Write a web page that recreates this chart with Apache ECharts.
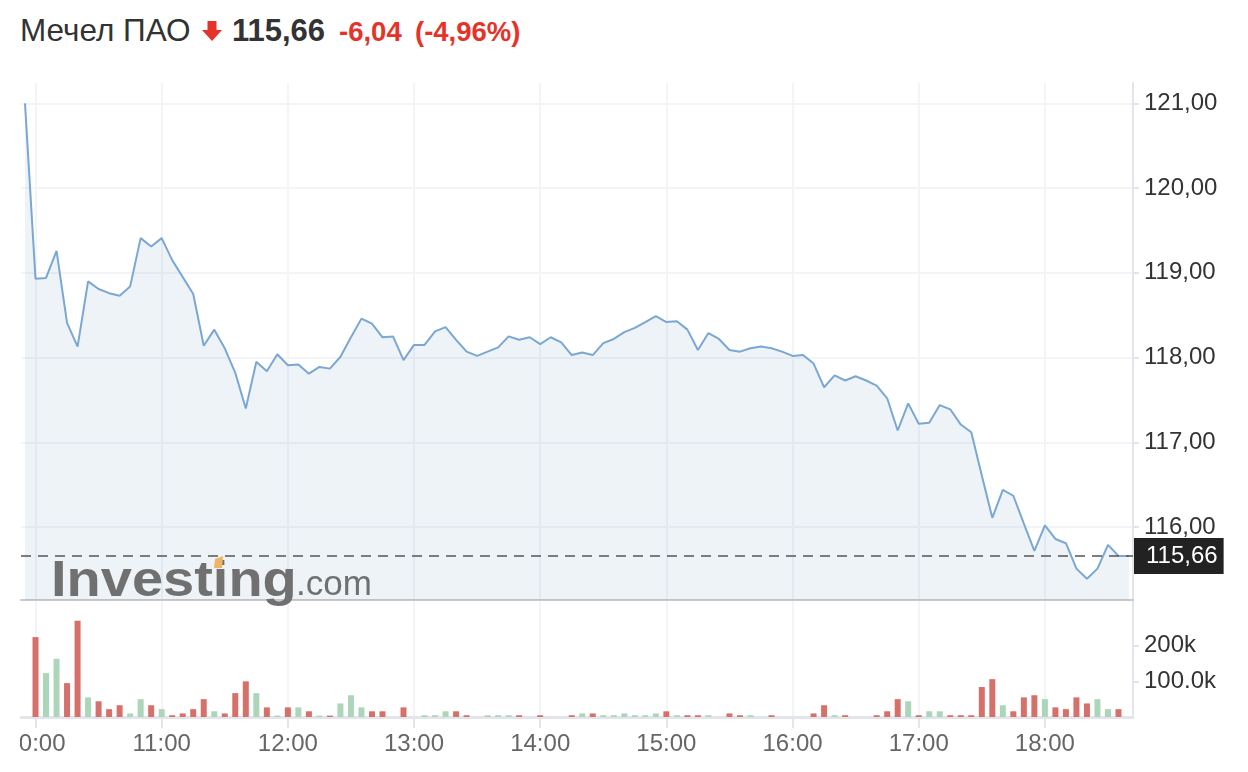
<!DOCTYPE html>
<html>
<head>
<meta charset="utf-8">
<title>Мечел ПАО</title>
<script src="https://cdn.jsdelivr.net/npm/echarts@6/dist/echarts.min.js"></script>
<style>
  html, body { margin: 0; padding: 0; background: #fff; }
  body { width: 1248px; height: 772px; position: relative; overflow: hidden; font-family: "Liberation Sans", Arial, sans-serif; }
  .head span { position: absolute; white-space: nowrap; }
  .name { left: 20px; top: 15px; font-size: 31.5px; line-height: 31px; color: #333; }
  .last { left: 232px; top: 15px; font-size: 31px; line-height: 31px; color: #333; font-weight: bold; }
  .chg { left: 339px; top: 18px; font-size: 27.5px; line-height: 27.5px; color: #e5332a; font-weight: bold; }
  .pct { left: 415px; top: 18px; font-size: 27.5px; line-height: 27.5px; color: #e5332a; font-weight: bold; }
  .arrow { position: absolute; left: 202px; top: 21px; }
  #chart { position: absolute; left: 20px; top: 0; width: 1228px; height: 772px; }
</style>
</head>
<body>
<div class="head">
  <span class="name">Мечел ПАО</span>
  <svg class="arrow" width="20" height="20" viewBox="0 0 20 20"><polygon points="5.5,0 14.5,0 14.5,9 20,9 10,20 0,9 5.5,9" fill="#e5332a"/></svg>
  <span class="last">115,66</span>
  <span class="chg">-6,04</span>
  <span class="pct">(-4,96%)</span>
</div>
<div id="chart"></div>
<script>
  // время в минутах от полуночи: цены 09:55 … 18:40, объёмы 10:00 … 18:35, шаг 5 мин
  var priceTimes = [];
  for (var t = 595; t <= 1120; t += 5) priceTimes.push(t);
  var volumeTimes = priceTimes.slice(1, 105);

  var priceValues = [
    121.00, 118.93, 118.94, 119.26, 118.41, 118.13, 118.90, 118.81, 118.76, 118.73,
    118.84, 119.41, 119.31, 119.41, 119.15, 118.95, 118.75, 118.14, 118.33, 118.11,
    117.82, 117.40, 117.95, 117.84, 118.04, 117.91, 117.92, 117.81, 117.89, 117.87,
    118.01, 118.24, 118.46, 118.40, 118.24, 118.25, 117.97, 118.15, 118.15, 118.31,
    118.36, 118.21, 118.07, 118.02, 118.07, 118.12, 118.25, 118.21, 118.24, 118.16,
    118.24, 118.18, 118.03, 118.06, 118.03, 118.17, 118.22, 118.30, 118.35, 118.42,
    118.49, 118.42, 118.43, 118.33, 118.09, 118.29, 118.22, 118.09, 118.07, 118.11,
    118.13, 118.11, 118.07, 118.02, 118.03, 117.93, 117.65, 117.79, 117.73, 117.78,
    117.73, 117.67, 117.52, 117.14, 117.46, 117.22, 117.23, 117.44, 117.39, 117.21,
    117.12, 116.61, 116.11, 116.44, 116.37, 116.04, 115.72, 116.02, 115.86, 115.81,
    115.51, 115.39, 115.51, 115.79, 115.66, 115.66
  ];
  var lastPrice = 115.66;

  var volumeValues = [
    224000, 123000, 163000, 95000, 270000, 55000, 44000, 22000, 33000, 10000,
    50000, 33000, 22000, 5000, 10000, 22000, 50000, 16000, 10000, 67000,
    100000, 67000, 27000, 4000, 27000, 27000, 16000, 4000, 4000, 38000,
    61000, 27000, 16000, 16000, 0, 27000, 0, 5000, 5000, 16000,
    16000, 5000, 0, 5000, 5000, 5000, 5000, 0, 5000, 0,
    0, 5000, 10000, 10000, 5000, 5000, 10000, 5000, 5000, 10000,
    16000, 5000, 5000, 5000, 5000, 0, 10000, 5000, 5000, 0,
    5000, 0, 0, 0, 10000, 33000, 5000, 5000, 0, 0,
    5000, 16000, 50000, 44000, 5000, 16000, 16000, 5000, 5000, 5000,
    84000, 106000, 33000, 16000, 55000, 61000, 50000, 27000, 22000, 55000,
    38000, 50000, 22000, 22000
  ];
  // 1 = рост (зелёный), 0 = падение (красный)
  var volumeUp = [
    0, 1, 1, 0, 0, 1, 0, 0, 0, 1,
    1, 0, 1, 0, 0, 0, 0, 1, 0, 0,
    0, 1, 0, 1, 0, 1, 0, 1, 0, 1,
    1, 1, 0, 0, 0, 0, 0, 1, 1, 1,
    0, 0, 0, 1, 1, 1, 0, 0, 0, 0,
    0, 0, 1, 0, 1, 1, 1, 1, 1, 1,
    0, 1, 0, 0, 1, 0, 0, 0, 1, 0,
    0, 0, 0, 0, 0, 0, 1, 0, 0, 0,
    0, 0, 0, 1, 0, 1, 1, 0, 0, 0,
    0, 0, 1, 0, 0, 0, 1, 0, 0, 0,
    0, 1, 1, 0
  ];

  var hourTicks = [600, 660, 720, 780, 840, 900, 960, 1020, 1080];
  var hourLabels = ['10:00', '11:00', '12:00', '13:00', '14:00', '15:00', '16:00', '17:00', '18:00'];
  var priceTicks = [116, 117, 118, 119, 120, 121];
  var priceTickLabels = ['116,00', '117,00', '118,00', '119,00', '120,00', '121,00'];
  var volumeTicks = [100000, 200000];
  var volumeTickLabels = ['100.0k', '200k'];

  var priceData = priceTimes.map(function (t, i) { return [t, priceValues[i]]; });
  var volumeData = volumeTimes.map(function (t, i) {
    return {
      value: [t, volumeValues[i]],
      itemStyle: { color: volumeUp[i] ? '#acd6b9' : '#d5706b' }
    };
  });

  var gridLine = '#f3f4f6';
  var axisGrey = '#e2e5ea';
  var xMin = 593.1, xMax = 1121.9;
  var barW = 6;

  var myChart = echarts.init(document.getElementById('chart'));
  var option = {
    animation: false,
    textStyle: { fontFamily: '"Liberation Sans", Arial, sans-serif' },
    grid: [
      { left: 1, top: 83, width: 1112, height: 517, outerBoundsMode: 'none' },
      { left: 1, top: 600, width: 1112, height: 117, outerBoundsMode: 'none' }
    ],
    xAxis: [
      {
        type: 'value', gridIndex: 0, min: xMin, max: xMax,
        axisLine: { show: true, onZero: false, lineStyle: { color: '#c9c9c9', width: 2 } },
        axisTick: { show: false, customValues: hourTicks },
        axisLabel: { show: false },
        splitLine: { show: true, lineStyle: { color: gridLine, width: 2 } }
      },
      {
        type: 'value', gridIndex: 1, min: xMin, max: xMax,
        axisLine: { show: true, onZero: false, lineStyle: { color: axisGrey, width: 3 } },
        axisTick: { show: true, length: 11, customValues: hourTicks, lineStyle: { color: axisGrey, width: 2 } },
        axisLabel: {
          customValues: hourTicks, margin: 15, fontSize: 24, color: '#666',
          formatter: function (v) { return hourLabels[hourTicks.indexOf(v)]; }
        },
        splitLine: { show: true, lineStyle: { color: gridLine, width: 2 } }
      }
    ],
    yAxis: [
      {
        type: 'value', gridIndex: 0, position: 'right', min: 115.14, max: 121.24,
        axisLine: { show: true, lineStyle: { color: axisGrey, width: 2 } },
        axisTick: { show: true, length: 6, customValues: priceTicks, lineStyle: { color: axisGrey, width: 2 } },
        axisLabel: {
          customValues: priceTicks, margin: 11, fontSize: 24, color: '#333',
          formatter: function (v) { return priceTickLabels[priceTicks.indexOf(v)]; }
        },
        splitLine: { show: true, lineStyle: { color: gridLine, width: 2 } }
      },
      {
        type: 'value', gridIndex: 1, position: 'right', min: 0, max: 328000,
        axisLine: { show: true, lineStyle: { color: axisGrey, width: 2 } },
        axisTick: { show: true, length: 6, customValues: volumeTicks, lineStyle: { color: axisGrey, width: 2 } },
        axisLabel: {
          customValues: volumeTicks, margin: 11, fontSize: 24, color: '#333',
          formatter: function (v) { return volumeTickLabels[volumeTicks.indexOf(v)]; }
        },
        splitLine: { show: false }
      }
    ],
    series: [
      {
        name: 'Цена', type: 'line', xAxisIndex: 0, yAxisIndex: 0,
        data: priceData, showSymbol: false,
        lineStyle: { color: '#7ba7d3', width: 2 },
        areaStyle: { color: 'rgba(120,158,200,0.18)' },
        markLine: {
          symbol: 'none', silent: true,
          data: [{ yAxis: lastPrice }],
          lineStyle: { color: '#555', type: [10, 7], width: 1.5 },
          label: {
            position: 'end', distance: 1,
            formatter: lastPrice.toFixed(2).replace('.', ','),
            backgroundColor: '#222', color: '#fff', fontSize: 24, lineHeight: 24,
            padding: [6, 6, 6, 12]
          }
        }
      },
      {
        // столбики объёма рисуются по шкалам осей
        name: 'Объём', type: 'custom', xAxisIndex: 1, yAxisIndex: 1,
        data: volumeData,
        renderItem: function (params, api) {
          var top = api.coord([api.value(0), api.value(1)]);
          var base = api.coord([api.value(0), 0]);
          return {
            type: 'rect',
            shape: { x: top[0] - barW / 2, y: top[1], width: barW, height: base[1] - top[1] },
            style: { fill: api.visual('color') }
          };
        }
      }
    ],
    graphic: [
      {
        type: 'text', z: 100, left: 31, top: 557,
        style: { text: 'Investing', font: 'bold 50px "Liberation Sans", Arial, sans-serif', fill: '#707070' },
        scaleX: 1.12
      },
      {
        type: 'text', z: 100, left: 276, top: 568,
        style: { text: '.com', font: '35px "Liberation Sans", Arial, sans-serif', fill: '#707070' }
      },
      {
        type: 'polygon', z: 101,
        shape: { points: [[195, 559], [203, 556], [202, 568], [194, 568]] },
        style: { fill: '#f0b463' }
      }
    ]
  };
  myChart.setOption(option);
</script>
</body>
</html>
